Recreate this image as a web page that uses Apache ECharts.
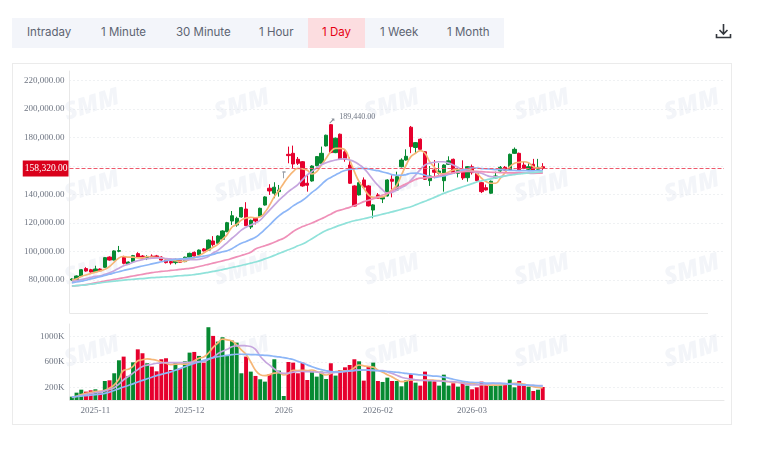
<!DOCTYPE html>
<html>
<head>
<meta charset="utf-8">
<title>1 Day</title>
<script src="https://cdn.jsdelivr.net/npm/echarts@6/dist/echarts.min.js"></script>
<style>
  html, body { margin: 0; padding: 0; background: #fff; }
  #page { position: relative; width: 760px; height: 451px; overflow: hidden; font-family: "Inter", "Open Sans", sans-serif; }
  #tabs { position: absolute; left: 12px; top: 18px; width: 492px; height: 30px; background: #f3f5fa; }
  #tabs .active { position: absolute; left: 296px; top: 0; width: 57px; height: 30px; background: #fcdde0; }
  #tabs span { position: absolute; top: 0; line-height: 28px; font-size: 11.5px; color: #5d6472; white-space: nowrap; }
  #box { position: absolute; left: 12px; top: 63px; width: 718px; height: 360px; border: 1px solid #ebebeb; }
  #main_chart { position: absolute; left: 0; top: 0; width: 760px; height: 451px; }
  #download { position: absolute; left: 715px; top: 23px; }
</style>
</head>
<body>
<div id="page">
  <div id="tabs">
    <div class="active"></div>
    <span style="left:15px">Intraday</span>
    <span style="left:89px">1 Minute</span>
    <span style="left:164px">30 Minute</span>
    <span style="left:247px">1 Hour</span>
    <span style="left:310px;color:#e60012">1 Day</span>
    <span style="left:368px">1 Week</span>
    <span style="left:435px">1 Month</span>
  </div>
  <svg id="download" width="17" height="17" viewBox="0 0 17 17" fill="none" stroke="#33373d" stroke-width="1.6">
    <path d="M8.5 1v10M4.5 7l4 4 4-4M1.5 11v3.5h14V11"/>
  </svg>
  <div id="box"></div>
  <div id="main_chart"></div>
</div>
<script>
// prices in thousands
var opens = [80,80.2,82.8,88,87.2,85.8,87.7,88.9,96.1,94,100.2,96.1,91.2,92.9,98.5,96.8,95,96.8,96.9,96.1,
  94,93,92.2,94,92.9,96,99.4,97.8,101.8,101,107.4,105.8,108.6,113.9,121.4,118.6,124.2,129.8,117.2,123.3,
  124.7,132.6,144.4,140.9,142,155.8,168.2,168.9,164.7,163,147.9,149.5,160.2,161.9,174.1,189,169.4,182.3,170,160.7,
  146,139.7,150.2,146,129.1,139.7,136.9,139,150.7,143.2,159.5,164.2,187.2,173,178.8,170,149.7,157.2,154.9,149.7,
  161.2,164.7,154.9,157.2,151.8,159.5,154.9,148.3,144.8,140.9,151.6,156.5,159.1,157,168.9,168.9,160.7,157.7,161.2,157.7,159.5];
var closes = [80.7,82.8,87.2,86.3,85.6,87.7,86.5,95.7,94,100.4,100.6,91.7,92.6,97.1,96.1,95.4,96.1,95.9,96.2,94,
  92.2,92,94.5,92.4,96,98.7,96.8,101,100.4,108,104.8,110.9,114.4,120.2,125.1,123.3,130.8,118.1,121.9,121.4,
  130.3,138.3,142.5,145.1,143.2,155.8,167.3,161.4,161.9,146,146.5,160,166.6,168.9,181.6,169.4,179.5,164.7,164.7,147.9,
  131.9,148.3,145.1,132,132.7,137.4,137.9,150.2,149.3,152.5,164.2,166.8,173.6,176.4,171.7,150.7,153,155.6,156.5,160.7,
  163.6,154.9,157.2,151.6,159.5,155.3,149.7,142,143.2,149.3,153,159.1,157,168.2,171.7,157.2,158.4,159.5,157,159.1,158.32];
var lows = [79.5,79.8,82.5,85.8,85.2,85.5,86,88.5,93.6,93.8,99.5,91,90.8,92.5,95.8,95,94,95.3,95.8,93.6,
  91.6,90.8,91,92,92.5,95.6,96.4,97.4,100,100.6,103.5,105.4,108.2,113.5,118.6,117.4,123.8,117.9,115.8,119,
  124.3,132.2,139.7,137.4,138.5,151.4,161.9,158.4,160.7,145.5,142,149,159.8,161.5,173.7,169,169,164.3,163,147.5,
  131.5,139.3,144.7,131.6,123.3,137,134,138.6,138,142.8,159,163.8,169,169,171,150.3,146,151.4,154,142,
  160.8,154.5,152,150.2,149,154,149.2,141,142.8,140.5,151.2,156,156.5,156.6,168.5,156.8,157.8,156.5,156.5,157.2,157];
var highs = [81.2,83.2,87.6,89,87.8,90,88.2,96,96.6,100.8,103.9,97,93,97.6,99.5,97.5,97.4,98,97.6,96.6,
  94.8,93.6,95,94.6,96.4,99.2,100,101.4,102.4,108.5,110.8,111.4,114.9,120.8,128.4,124.4,131.3,134.6,122.4,124,
  130.8,138.8,147.2,148.6,146.7,155.8,173.6,174.3,166.3,163.5,153.7,160.5,167,173.6,182,189.44,180,182.8,172,166,
  146.5,148.8,152,146.5,133.2,141,138.4,150.7,153.5,156,165.4,171.7,188.1,176.8,179.3,170.5,160,164.2,162,161.2,
  166.8,165.2,159,164,160,161,155.5,148.8,147,149.8,156,160,160,168.7,173,169.4,163.5,162,165,165,162];

var ma5 = [80,80.8,82.5,83.5,84.5,85.5,86.3,87.5,89.5,92.5,95.5,96.5,96,96,95.5,95.5,96.5,96,95.8,95.5,
  94.7,94,93.5,93,93.2,94.5,95.5,97,99,101,103,105,108.5,112,117,119,122,123.5,124,123.7,
  124.4,127.5,132.6,138.5,143,147.9,152.5,156,158.4,158,157,154.4,156,160.7,165.4,170,172.4,172.4,171.3,164.2,
  156,149,144.4,139.7,138,138,138.3,140.4,143.2,146.7,153.7,160.7,166.6,168.9,170.8,168.9,163,159.1,154.9,154.5,
  155.8,157.2,157.7,157.2,157.7,156.7,154.9,151.4,149,147.9,147.9,151.4,155.3,159.5,161.9,162.6,163,162.3,159.5,158.5,159];
var ma10 = [79,79.5,80.3,81,81.8,82.5,83,84,85,86.5,88.3,90,91,92.5,93.5,94.3,95,95.3,95.5,95.5,
  95,94.8,94.6,94.5,94.3,94.3,94.2,94.5,95.3,96.5,99,100.8,103.4,106.3,109.3,112,115,117,118.6,120,
  122,125.5,129,132.5,136,139,142,144.5,147,150.5,153.7,156.2,158.6,160.8,162.3,163.4,164.2,164.8,165,164.2,
  163,161,158.4,154.5,150.2,146.5,143.2,141,141.5,143.2,145,146.7,150,153.7,157.5,160.7,162,162.6,163,163,
  162,160.7,159,157.2,156.5,156,155.5,154.9,153.5,152.5,152.3,152.5,153,153.7,154.5,155.3,155,154.9,154.8,154.9,155.5];
var ma20 = [78,78.6,79.2,79.8,80.8,81.5,82.3,83.2,84,85,85.8,86.7,87.5,88.2,89,89.8,90.5,91.3,92,92.8,
  93.5,94,94.4,94.8,95,95.4,95.8,96.2,96.8,97.3,98,99,99.8,100.5,102,104,105.8,107,108.5,110,
  112.5,115.5,118.6,122,125,127.5,129.5,132,134,136,138.5,141.5,144,147,150,152,153.7,155.5,156.8,157.6,
  158,158.3,158.4,158,157.2,156.7,155.8,155,154,153.5,153.5,154,154.9,155,154.5,153.5,152.5,152,152.5,153,
  154,155,156,157,158,158.6,158.6,158.2,158,157.8,157.5,157.4,157.2,157,156.9,156.7,156.7,156.6,156.6,156.7,156.7];
var ma30 = [75.8,76,76.3,76.7,77.3,78,78.6,79.2,79.8,80.4,81,81.6,82.2,82.8,83.4,84,84.6,85.2,85.6,86,
  86.3,86.7,87,87.4,87.8,88.1,88.7,89.5,90.2,91,91.8,92.6,93.4,94.2,95.2,96.2,97.2,98.2,99.5,101.8,
  103,104,105.2,106.5,108,109.3,111.5,114,116,117.5,118.8,120,121.5,123,124.5,126.2,128,129,130,131,
  132.3,133.5,135,136,137,138.2,139.6,140.8,142.5,144.5,146,147.5,149,150.5,151.5,151.6,152,152.6,153.2,154,
  154.7,155.2,155.7,156,156.2,156.3,156.2,156,155.8,155.6,155.5,155.4,155.3,155.2,155.2,155.1,155.1,155,155,155,155];
var ma60 = [75.8,76,76.3,76.6,77,77.5,78,78.4,78.8,79.2,79.6,79.9,80.2,80.5,80.8,81,81.3,81.6,81.8,82,
  82.2,82.4,82.7,83,83.2,83.4,83.8,84.3,84.8,85.4,86,86.6,87.3,88,88.8,89.5,90.2,91,91.8,92.6,
  93.6,94.8,96,97.3,98.7,99.9,101.2,102.5,104,105.2,107,109,111,113,114.8,116,117.3,118.5,119.6,120.7,
  121.6,122.3,123,123.8,124.6,125.4,126.2,127,127.8,128.7,129.6,130.5,131.4,132.7,134,135.3,136.6,138,139.4,140.8,
  142,143.2,144.3,145.4,146.5,147.6,148.8,149.6,150.3,151,151.6,152.3,153,153.6,154,154.4,154.8,155.1,155.4,155.7,156];

// volume in K
var volumes = [53,116,163,132,153,169,116,300,311,422,627,685,380,595,800,738,580,527,453,643,
  659,474,590,500,611,748,759,696,590,1149,1012,922,991,711,938,906,422,685,448,380,
  327,290,411,643,464,63,600,590,422,590,316,448,369,448,332,580,385,474,516,553,
  643,611,306,527,590,300,285,353,300,300,216,311,406,274,227,448,300,295,227,400,
  227,264,211,285,227,169,200,290,242,227,232,232,264,321,200,300,227,211,142,163,205];
var volMa5 = [45,60,85,105,120,135,140,155,190,240,330,470,485,530,620,635,650,640,625,600,
  580,560,565,570,565,570,620,660,680,740,830,900,960,950,930,870,790,720,600,470,
  400,385,400,425,430,395,420,470,465,470,465,474,450,420,395,420,448,455,460,464,
  510,553,540,527,520,470,440,400,365,325,290,300,316,312,310,315,316,312,305,298,
  288,280,276,272,266,260,250,242,237,235,236,237,245,255,262,264,250,228,211,200,195];
var volMa10 = [40,55,70,85,100,115,125,145,165,195,250,320,370,425,480,530,550,565,580,585,
  590,590,590,590,590,595,600,605,610,640,670,730,770,800,840,855,860,855,845,800,
  690,610,550,490,440,420,425,440,450,450,448,445,440,435,432,432,435,440,450,460,
  470,474,474,470,468,466,464,445,420,390,360,343,330,320,312,308,306,304,300,296,
  292,290,280,265,245,237,238,245,250,258,264,262,258,252,248,240,235,232,230,228,227];
var volMa20 = [50,55,62,70,78,85,92,105,125,150,180,205,230,255,285,310,335,360,385,405,
  425,445,470,495,525,555,578,600,625,650,670,685,695,705,715,722,722,720,718,715,
  710,705,700,690,680,668,655,640,610,585,555,525,500,480,462,450,445,447,452,458,
  464,470,474,472,468,462,456,450,446,438,430,420,412,405,398,392,385,378,372,362,
  345,328,310,295,285,278,275,272,268,266,264,262,258,254,250,245,240,235,230,225,221];

var slotCount = 139;
var tickIndexes = [5, 25, 45, 65, 85];
var tickLabels = ["2025-11", "2025-12", "2026", "2026-02", "2026-03"];
var priceTicks = [80000, 100000, 120000, 140000, 160000, 180000, 200000, 220000];
var volumeTicks = [200, 600, 1000];
var lastPrice = 158320;
var highIndex = 55;
var highPrice = 189440;

var UP = "#078a32", DOWN = "#e6002d", FLAT = "#9aa0a8";
var axisGrey = "#e8e8e8", textGrey = "#6f7683";
var lineColors = { ma5: "#f6b676", ma10: "#c6a6de", ma20: "#8db6f7", ma30: "#ef90b8", ma60: "#90e2da" };

var categories = [];
for (var i = 0; i < slotCount; i++) categories.push(String(i));

var candleData = opens.map(function (o, i) {
  var item = { value: [o * 1000, closes[i] * 1000, lows[i] * 1000, highs[i] * 1000] };
  if (o === closes[i]) item.itemStyle = { color: FLAT, color0: FLAT, borderColor: FLAT, borderColor0: FLAT };
  return item;
});
var volumeData = volumes.map(function (v, i) {
  return { value: v, itemStyle: { color: closes[i] >= opens[i] ? UP : DOWN } };
});

function thousands(list) { return list.map(function (v) { return v * 1000; }); }
function lineSeries(name, data, color, xIdx, yIdx, z) {
  return {
    name: name, type: "line", data: data, xAxisIndex: xIdx, yAxisIndex: yIdx,
    smooth: true, showSymbol: false, symbol: "none", z: z || 3,
    lineStyle: { color: color, width: 1.7 }
  };
}
function isTick(index) { return tickIndexes.indexOf(index) >= 0; }

// faint SMM marks behind the chart
var watermarks = [];
[92, 242, 392, 542, 692].forEach(function (x) {
  [105, 187, 270, 352].forEach(function (y) {
    watermarks.push({
      type: "text", x: x, y: y, rotation: 0.3, z: 0, silent: true,
      style: { text: "SMM", fill: "#f3f5f9", font: "italic 900 24px 'Open Sans'", align: "center", verticalAlign: "middle" }
    });
  });
});

var mainChart = echarts.init(document.getElementById("main_chart"), null, { renderer: "canvas" });

var chartOptions = {
  animation: false,
  graphic: watermarks.concat([
    { type: "line", z: 1, silent: true, shape: { x1: 69.5, y1: 313.5, x2: 708, y2: 313.5 }, style: { stroke: axisGrey, lineWidth: 1 } }
  ]),
  grid: [
    { left: 69.5, right: 36, top: 71, height: 242 },
    { left: 69.5, right: 36, top: 324, height: 76 }
  ],
  xAxis: [
    {
      type: "category", gridIndex: 0, data: categories, boundaryGap: true,
      axisLine: { show: false }, axisTick: { show: false }, axisLabel: { show: false }, splitLine: { show: false }
    },
    {
      type: "category", gridIndex: 1, data: categories, boundaryGap: true,
      axisLine: { lineStyle: { color: axisGrey } },
      axisTick: { alignWithLabel: true, lineStyle: { color: "#cfd3d9" }, length: 3, interval: function (i) { return isTick(i); } },
      axisLabel: {
        interval: function (i) { return isTick(i); },
        formatter: function (v, i) { return tickLabels[tickIndexes.indexOf(i)]; },
        fontFamily: "Liberation Serif", fontSize: 9, color: textGrey, margin: 6
      },
      splitLine: { show: false }
    }
  ],
  yAxis: [
    {
      type: "value", gridIndex: 0, min: 56840, max: 226670,
      axisLine: { show: true, lineStyle: { color: axisGrey } },
      axisTick: { show: false, customValues: priceTicks },
      axisLabel: {
        customValues: priceTicks, margin: 5, fontFamily: "Liberation Serif", fontSize: 9, color: textGrey,
        formatter: function (v) { return v.toLocaleString("en-US") + ".00"; }
      },
      splitLine: { lineStyle: { color: "#dfe2e7", type: [1, 3] } }
    },
    {
      type: "value", gridIndex: 1, min: 0, max: 1200,
      axisLine: { show: true, lineStyle: { color: axisGrey } },
      axisTick: { show: false, customValues: volumeTicks },
      axisLabel: {
        customValues: volumeTicks, margin: 5, fontFamily: "Liberation Serif", fontSize: 9, color: textGrey,
        formatter: function (v) { return v + "K"; }
      },
      splitLine: { lineStyle: { color: "#dfe2e7", type: [1, 3] } }
    }
  ],
  series: [
    {
      name: "K", type: "candlestick", xAxisIndex: 0, yAxisIndex: 0, data: candleData, barWidth: "80%", z: 2,
      itemStyle: { color: UP, color0: DOWN, borderColor: UP, borderColor0: DOWN, borderWidth: 1 },
      markLine: {
        silent: true, symbol: "none", animation: false,
        lineStyle: { color: "#ee5a6c", type: "dashed", width: 1 },
        data: [{ yAxis: lastPrice }],
        label: {
          position: "start", distance: 1, color: "#fff", backgroundColor: "#d9001b",
          fontFamily: "Liberation Serif", fontSize: 9.5, padding: [3, 1, 3, 2],
          formatter: function () { return lastPrice.toLocaleString("en-US") + ".00"; }
        }
      },
      markPoint: {
        silent: true, animation: false,
        symbol: "path://M0 10L6 2 4 0 10 0 10 6 8 4 1.5 11z", symbolSize: 5, symbolOffset: [1, -3],
        itemStyle: { color: "#8a9099" },
        label: {
          position: "right", distance: 5, offset: [0, -4], color: textGrey, fontFamily: "Liberation Serif", fontSize: 8,
          formatter: function () { return highPrice.toLocaleString("en-US") + ".00"; }
        },
        data: [{ coord: [String(highIndex), highPrice] }]
      }
    },
    lineSeries("MA5", thousands(ma5), lineColors.ma5, 0, 0),
    lineSeries("MA10", thousands(ma10), lineColors.ma10, 0, 0),
    lineSeries("MA20", thousands(ma20), lineColors.ma20, 0, 0),
    lineSeries("MA30", thousands(ma30), lineColors.ma30, 0, 0),
    lineSeries("MA60", thousands(ma60), lineColors.ma60, 0, 0),
    { name: "VOL", type: "bar", xAxisIndex: 1, yAxisIndex: 1, data: volumeData, barWidth: "84%", z: 2 },
    lineSeries("VMA5", volMa5, lineColors.ma5, 1, 1),
    lineSeries("VMA10", volMa10, lineColors.ma10, 1, 1),
    lineSeries("VMA20", volMa20, lineColors.ma20, 1, 1)
  ]
};

mainChart.setOption(chartOptions);
</script>
</body>
</html>
